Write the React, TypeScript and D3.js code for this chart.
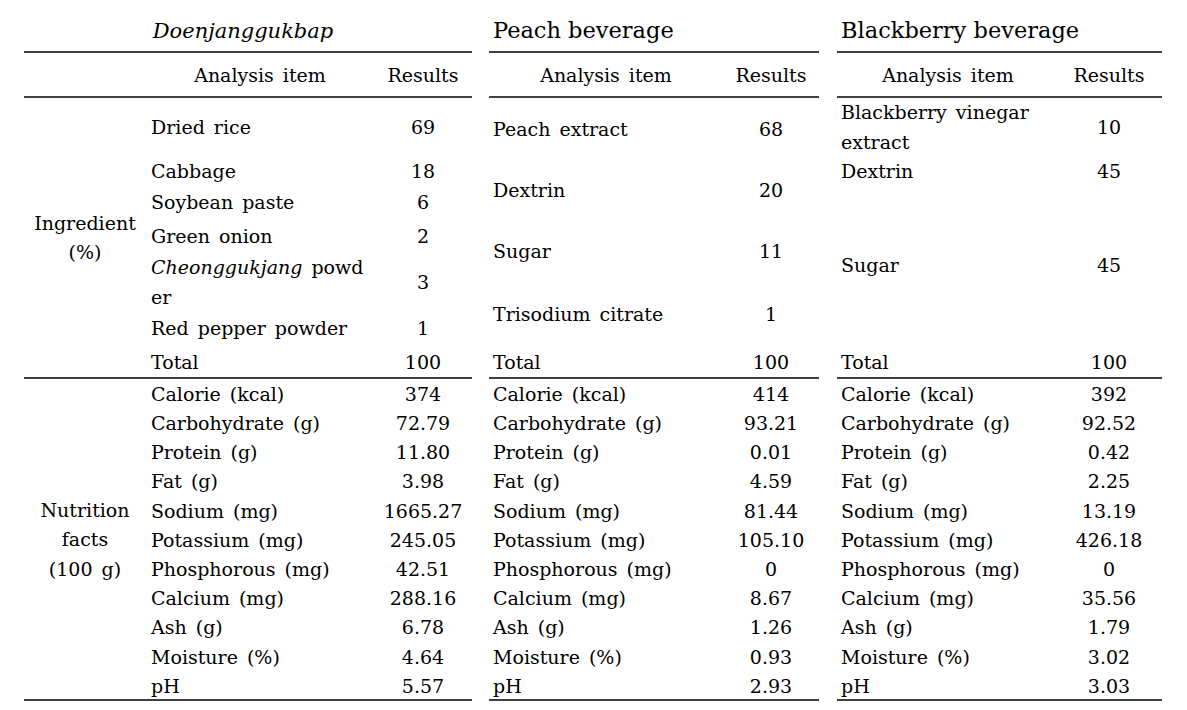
import React, { useEffect, useRef } from "react";
import * as d3 from "d3";

// ---- data ----
const sectionTitles = ["Doenjanggukbap", "Peach beverage", "Blackberry beverage"];
const headerItem = "Analysis item";
const headerResult = "Results";
const groupIngredient = ["Ingredient", "(%)"];
const groupNutrition = ["Nutrition", "facts", "(100 g)"];

const doenIngredients = ["Dried rice", "Cabbage", "Soybean paste", "Green onion", "Cheonggukjang powder", "Red pepper powder", "Total"];
const doenIngredientValues = ["69", "18", "6", "2", "3", "1", "100"];
const peachIngredients = ["Peach extract", "Dextrin", "Sugar", "Trisodium citrate", "Total"];
const peachIngredientValues = ["68", "20", "11", "1", "100"];
const blackIngredients = ["Blackberry vinegar extract", "Dextrin", "Sugar", "Total"];
const blackIngredientValues = ["10", "45", "45", "100"];

const nutrients = ["Calorie (kcal)", "Carbohydrate (g)", "Protein (g)", "Fat (g)", "Sodium (mg)", "Potassium (mg)", "Phosphorous (mg)", "Calcium (mg)", "Ash (g)", "Moisture (%)", "pH"];
const doenNutrition = ["374", "72.79", "11.80", "3.98", "1665.27", "245.05", "42.51", "288.16", "6.78", "4.64", "5.57"];
const peachNutrition = ["414", "93.21", "0.01", "4.59", "81.44", "105.10", "0", "8.67", "1.26", "0.93", "2.93"];
const blackNutrition = ["392", "92.52", "0.42", "2.25", "13.19", "426.18", "0", "35.56", "1.79", "3.02", "3.03"];

// ---- layout ----
const W = 1187, H = 710;
const FONT = "'DejaVu Serif', 'Liberation Serif', serif";
const FS = 19;
const lineX0 = [24, 489, 837];
const lineX1 = [472, 819, 1162];
const labelX = [151, 493, 841];
const valueX = [423, 771, 1109];
const headerItemX = [260, 606, 948];
const titleX = [243, 493, 841];
const titleAnchor = ["middle", "start", "start"];
const titleSize = [21, 22.5, 22.5];
const ingredientRowY = [
  [127, 171, 202, 236, 282, 328, 362],
  [129, 190, 251, 314, 362],
  [127, 171, 265, 362],
];
// label line breaks (wrapped cells)
const wraps: Record<string, { t: string; italic?: boolean }[][]> = {
  "Cheonggukjang powder": [[{ t: "Cheonggukjang", italic: true }, { t: " powd" }], [{ t: "er" }]],
  "Blackberry vinegar extract": [[{ t: "Blackberry vinegar" }], [{ t: "extract" }]],
};
const wrapGap = 30;
const hLinesY = { top: 52, header: 97, mid: 378, bottom: 700 };

export default function App() {
  const ref = useRef<SVGSVGElement>(null);
  useEffect(() => {
    const svg = d3.select(ref.current);
    svg.selectAll("*").remove();
    const g = svg.append("g").attr("font-family", FONT).attr("font-size", FS).attr("fill", "#000");
    const base = (c: number) => c + FS * 0.36;

    const ingredientSets = [
      [doenIngredients, doenIngredientValues],
      [peachIngredients, peachIngredientValues],
      [blackIngredients, blackIngredientValues],
    ];
    const nutritionSets = [doenNutrition, peachNutrition, blackNutrition];
    const yN = d3.scaleLinear().domain([0, nutrients.length - 1]).range([394, 686]);

    sectionTitles.forEach((title, s) => {
      Object.values(hLinesY).forEach((y) => {
        g.append("line").attr("x1", lineX0[s]).attr("x2", lineX1[s]).attr("y1", y).attr("y2", y)
          .attr("stroke", "#000").attr("stroke-width", 1.4);
      });
      g.append("text").attr("x", titleX[s]).attr("y", 30 + titleSize[s] * 0.36).attr("font-size", titleSize[s])
        .attr("text-anchor", titleAnchor[s]).attr("font-style", s === 0 ? "italic" : "normal").text(title);
      g.append("text").attr("x", headerItemX[s]).attr("y", base(75)).attr("text-anchor", "middle")
        .attr("word-spacing", 3).text(headerItem);
      g.append("text").attr("x", valueX[s]).attr("y", base(75)).attr("text-anchor", "middle").text(headerResult);

      const [names, vals] = ingredientSets[s];
      names.forEach((name, i) => {
        const cy = ingredientRowY[s][i];
        const w = wraps[name];
        if (w) {
          w.forEach((line, li) => {
            const t = g.append("text").attr("x", labelX[s]).attr("y", base(cy + (li - (w.length - 1) / 2) * wrapGap))
              .attr("word-spacing", 3);
            line.forEach((p) => t.append("tspan").attr("font-style", p.italic ? "italic" : "normal").text(p.t));
          });
        } else {
          g.append("text").attr("x", labelX[s]).attr("y", base(cy)).attr("word-spacing", 3).text(name);
        }
        g.append("text").attr("x", valueX[s]).attr("y", base(cy)).attr("text-anchor", "middle").text(vals[i]);
      });

      nutrients.forEach((n, i) => {
        g.append("text").attr("x", labelX[s]).attr("y", base(yN(i))).attr("word-spacing", 3).text(n);
        g.append("text").attr("x", valueX[s]).attr("y", base(yN(i))).attr("text-anchor", "middle").text(nutritionSets[s][i]);
      });
    });

    groupIngredient.forEach((t, i) => {
      g.append("text").attr("x", 85).attr("y", base(223 + i * 29)).attr("text-anchor", "middle").text(t);
    });
    groupNutrition.forEach((t, i) => {
      g.append("text").attr("x", 85).attr("y", base(510 + i * 29.5)).attr("text-anchor", "middle")
        .attr("word-spacing", 3).text(t);
    });
  }, []);
  return (
    <svg ref={ref} width={W} height={H} style={{ position: "absolute", left: 0, top: 0, background: "#fff" }} />
  );
}
